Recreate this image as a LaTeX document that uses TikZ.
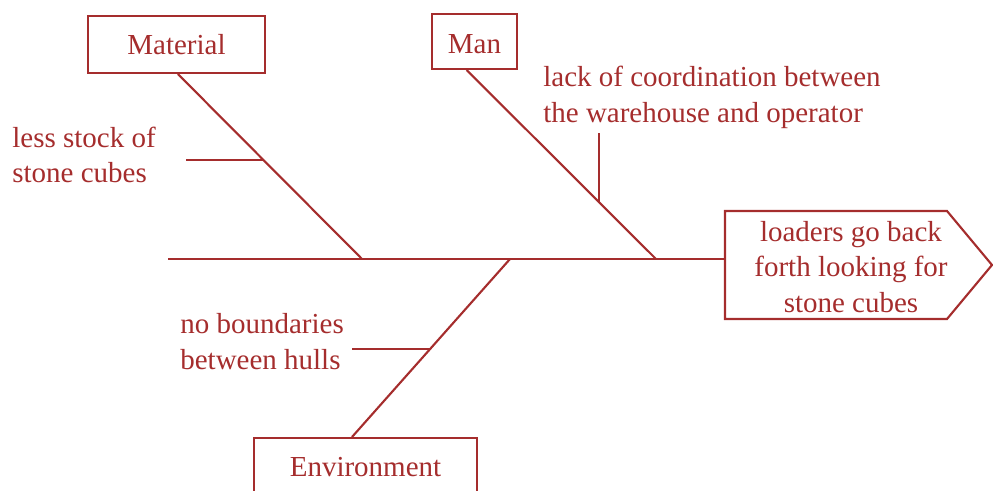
\documentclass[tikz,border=0pt]{standalone}
\usepackage{fontspec}
\setmainfont{Liberation Serif}
\usetikzlibrary{calc}
\definecolor{fbred}{RGB}{165,45,45}
\begin{document}
\begin{tikzpicture}[x=0.02cm,y=-0.02cm,
  line/.style={draw=fbred,line width=1.2pt},
  box/.style={draw=fbred,line width=1.2pt,text=fbred,inner sep=0pt,font=\fontsize{16.5}{20.4}\selectfont},
  lbl/.style={text=fbred,inner sep=0pt,align=left,anchor=west,font=\fontsize{16.5}{20.4}\selectfont}]
\useasboundingbox (0,0) rectangle (993,490);
\clip (0,0) rectangle (993,490);
% category boxes
\node[box,minimum width=3.54cm,minimum height=1.14cm] (Material) at (176.5,44.5) {Material};
\node[box,minimum width=1.7cm,minimum height=1.1cm,text height=0.48cm,text depth=0cm] (Man) at (474.5,41.5) {Man};
\node[box,minimum width=4.46cm,minimum height=1.2cm,anchor=north] (Env) at (365.5,437) {\raisebox{0.04cm}{Environment}};
% head
\coordinate (hTL) at (725,211);
\coordinate (hTR) at (947,211);
\coordinate (hTip) at (992,265);
\coordinate (hBR) at (947,319);
\coordinate (hBL) at (725,319);
\draw[line] (hTL) -- (hTR) -- (hTip) -- (hBR) -- (hBL) -- cycle;
\node[lbl,anchor=center,align=center] (head) at (851,267) {loaders go back\\forth looking for\\stone cubes};
% spine
\coordinate (sL) at (168,259);
\coordinate (sR) at (725,259);
\draw[line] (sL) -- (sR);
% main bones
\coordinate (matJ) at (362,259);
\coordinate (manJ) at (656,259);
\coordinate (envJ) at (510,259);
\draw[line] ($(Material.south west)!0.508!(Material.south east)$) -- (matJ);
\draw[line] ($(Man.south west)!0.41!(Man.south east)$) -- (manJ);
\draw[line] ($(Env.north west)!0.44!(Env.north east)$) -- (envJ);
% sub bones
\coordinate (m1a) at (186,160);
\coordinate (m1b) at (263,160);
\draw[line] (m1a) -- (m1b);
\coordinate (n1a) at (599,133);
\coordinate (n1b) at (599,202);
\draw[line] (n1a) -- (n1b);
\coordinate (e1a) at (352,349);
\coordinate (e1b) at (430,349);
\draw[line] (e1a) -- (e1b);
% cause labels
\node[lbl] (c1) at (12,155) {less stock of\\stone cubes};
\node[lbl] (c2) at (543,97) {lack of coordination between\\the warehouse and operator};
\node[lbl] (c3) at (180,342) {no boundaries\\between hulls};
\end{tikzpicture}
\end{document}
